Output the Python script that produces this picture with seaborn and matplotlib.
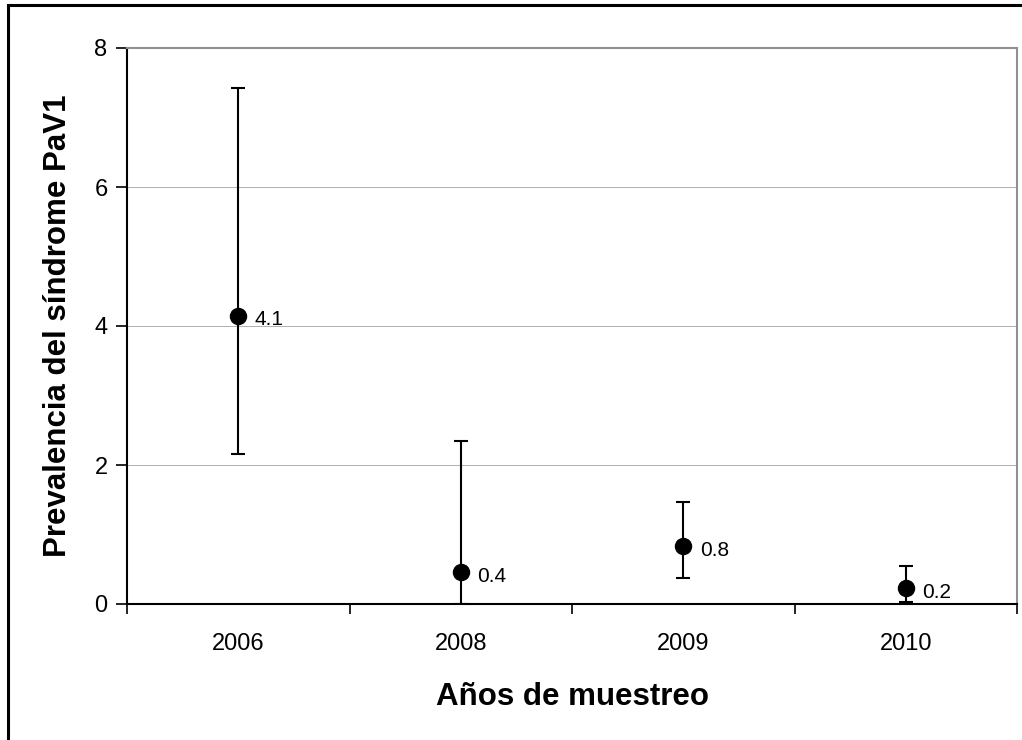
import matplotlib
matplotlib.use("Agg")
import matplotlib.pyplot as plt
import seaborn as sns
import pandas as pd
import numpy as np
from matplotlib.patches import Rectangle

years = ["2006", "2008", "2009", "2010"]
prevalence = [4.15, 0.46, 0.83, 0.23]
ci_low = [2.16, 0.0, 0.37, 0.03]
ci_high = [7.42, 2.35, 1.47, 0.54]
point_labels = ["4.1", "0.4", "0.8", "0.2"]
y_ticks = [0, 2, 4, 6, 8]

sns.set_theme(style="white")
plt.rcParams['font.family'] = ['Liberation Sans', 'DejaVu Sans']
plt.rcParams['text.color'] = 'black'
plt.rcParams['axes.labelcolor'] = 'black'
plt.rcParams['xtick.color'] = 'black'
plt.rcParams['ytick.color'] = 'black'

df = pd.DataFrame({"year": years, "prev": prevalence})

fig = plt.figure(figsize=(10.22, 7.4), dpi=100)
ax = fig.add_axes([127/1022, 1-604/740, (1017-127)/1022, (604-48)/740])

# figure border (left and top visible)
border = Rectangle((8/1022, -0.05), 1.2, 1 - 5/740 + 0.05,
                   transform=fig.transFigure, fill=False,
                   edgecolor="black", linewidth=2.2)
fig.patches.append(border)

for y in y_ticks[1:]:
    ax.axhline(y, color="#b0b0b0", linewidth=0.7, zorder=0)

pos = np.arange(len(years))
yerr = [np.array(prevalence) - np.array(ci_low), np.array(ci_high) - np.array(prevalence)]
ax.errorbar(pos, prevalence, yerr=yerr, fmt="none", ecolor="black",
            elinewidth=1.5, capsize=5, capthick=1.5, zorder=2)
sns.scatterplot(data=df, x="year", y="prev", ax=ax, color="black", s=135,
                edgecolor="black", zorder=3, legend=False)

for p, v, lab in zip(pos, prevalence, point_labels):
    ax.annotate(lab, (p, v), xytext=(12, -3), textcoords="offset points",
                ha="left", va="center", fontsize=15, color="black")

ax.set_xlim(-0.5, len(years) - 0.5)
ax.set_ylim(0, 8)
ax.set_yticks(y_ticks)
ax.set_yticklabels([str(t) for t in y_ticks], fontsize=17)
ax.set_xticks(pos)
ax.set_xticklabels(years, fontsize=17)
ax.set_xticks(np.arange(-0.5, len(years)), minor=True)
ax.tick_params(axis="x", which="major", length=0, pad=21)
ax.tick_params(axis="x", which="minor", length=7, width=1.2, color="black", direction="out", bottom=True)
ax.tick_params(axis="y", length=8, width=1.2, color="black", direction="out", left=True, pad=6)

for s in ["left", "bottom"]:
    ax.spines[s].set_color("black")
    ax.spines[s].set_linewidth(1.5)
for s in ["top", "right"]:
    ax.spines[s].set_color("#909090")
    ax.spines[s].set_linewidth(1.5)
    ax.spines[s].set_visible(True)

ax.set_xlabel("Años de muestreo", fontsize=22.5, fontweight="bold", labelpad=19)
ax.set_ylabel("Prevalencia del síndrome PaV1", fontsize=22.5, fontweight="bold", labelpad=15)

fig.savefig("out.png", dpi=100)
